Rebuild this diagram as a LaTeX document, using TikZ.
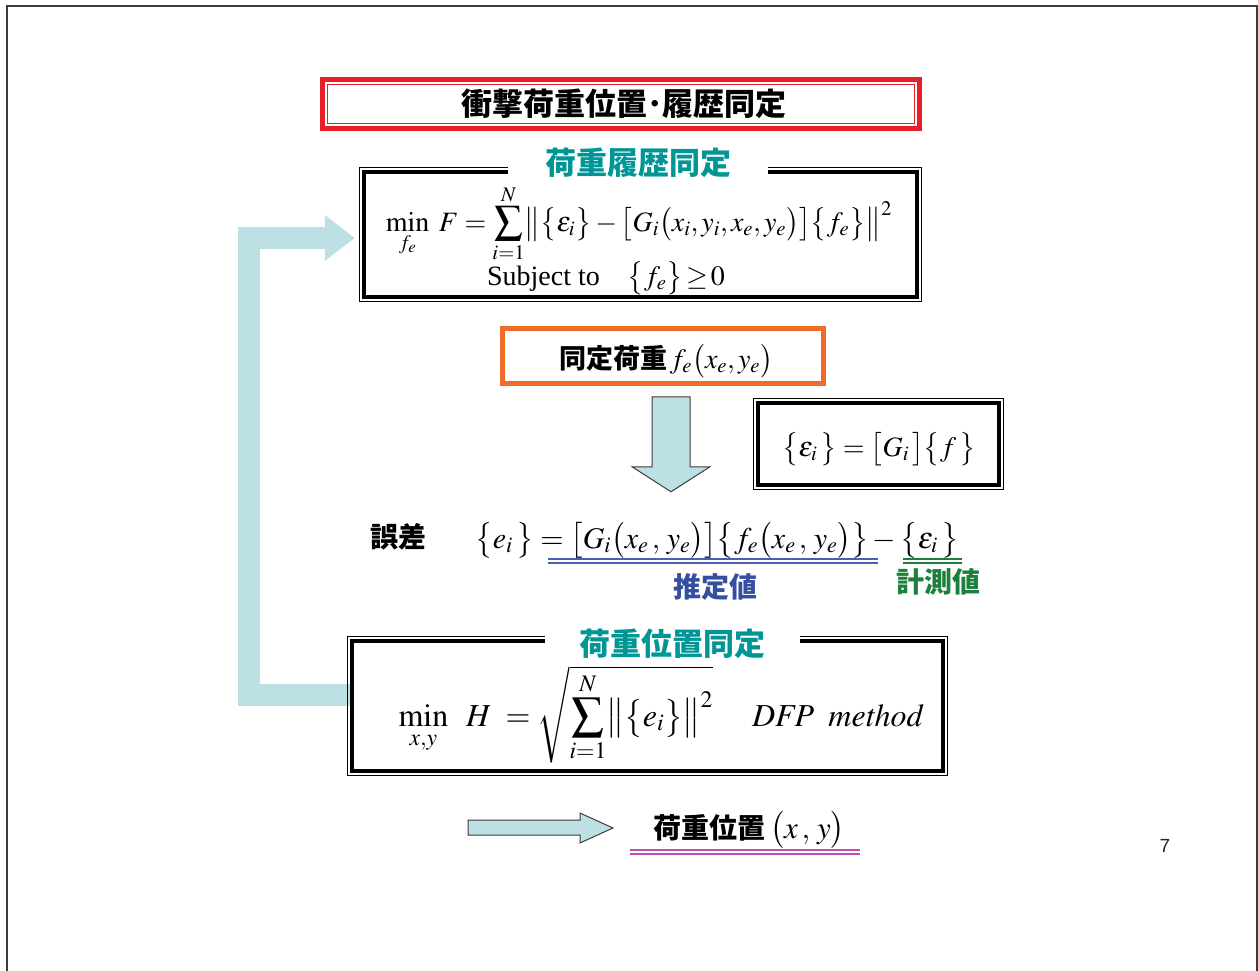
\documentclass[tikz,border=0pt]{standalone}
\usepackage{mathptmx}
\usepackage{fontspec}
\setmainfont{Liberation Serif}
\setsansfont{Liberation Sans}
\newfontfamily\cjk{Noto Sans CJK JP}
\usetikzlibrary{calc,arrows.meta}

\definecolor{redc}{RGB}{232,30,40}
\definecolor{orangec}{RGB}{240,108,40}
\definecolor{tealc}{RGB}{0,150,150}
\definecolor{arrowc}{RGB}{188,224,228}
\definecolor{bluec}{RGB}{52,78,160}
\definecolor{blueln}{RGB}{72,96,184}
\definecolor{greenc}{RGB}{28,128,60}
\definecolor{magc}{RGB}{192,80,176}
\definecolor{framec}{RGB}{60,60,60}

\newcommand\jpb{\cjk\bfseries}
% double frame: thin outer line, thick inner line
\newcommand\dblframe[1]{%
  \draw[line width=1.2pt] ([shift={(0.6pt,-0.6pt)}]#1.north west) rectangle ([shift={(-0.6pt,0.6pt)}]#1.south east);
  \draw[line width=4pt] ([shift={(5pt,-5pt)}]#1.north west) rectangle ([shift={(-5pt,5pt)}]#1.south east);}
% two thin parallel lines under a term
\newcommand\dblrule[4]{%
  \draw[#4, line width=1.4pt] (#1,#3) -- (#2,#3);
  \draw[#4, line width=1.4pt] (#1,#3+4) -- (#2,#3+4);}

\begin{document}
\begin{tikzpicture}[x=1pt,y=-1pt,
  jpt/.style={font=\jpb\fontsize{31}{36}\selectfont, inner sep=0pt},
  jps/.style={font=\jpb\fontsize{28}{33}\selectfont, inner sep=0pt},
  mathf/.style={font=\fontsize{28}{34}\selectfont, inner sep=0pt},
  mathm/.style={font=\fontsize{30}{36}\selectfont, inner sep=0pt},
  mathl/.style={font=\fontsize{32}{38}\selectfont, inner sep=0pt},
  boxarea/.style={inner sep=0pt},
  grouplabel/.style={jpt, text=tealc, fill=white, minimum height=28pt},
  feedback/.style={draw=arrowc, line width=22pt, line join=miter,
    -{Triangle[width=44pt,length=30pt]}},
  blockarrow/.style={draw=framec, line width=1pt, fill=arrowc, line join=miter}]

\useasboundingbox (0,0) rectangle (1258,970);

% page frame
\draw[framec, line width=1.6pt] (7,975) -- (7,6) -- (1257,6) -- (1257,975);

% boxes
\node[boxarea, minimum width=563pt, minimum height=135pt] (B1) at (640.5,234.5) {};
\node[boxarea, minimum width=251pt, minimum height=92pt] (B2) at (878.5,444) {};
\node[boxarea, minimum width=601pt, minimum height=140pt] (B3) at (647.5,706) {};

% feedback arrow from the location box back to the history box
\coordinate (fbA) at ([xshift=3pt,yshift=11pt]B3.west);
\coordinate (fbB) at ([xshift=-4pt,yshift=-3.5pt]B1.west);
\draw[feedback] (fbA) -| ([xshift=-105.5pt]fbB) -- (fbB);

\dblframe{B1}
\dblframe{B2}
\dblframe{B3}

% title
\node[jpt, minimum width=602pt, minimum height=54pt] (title) at (624,104) {衝撃荷重位置･履歴同定};
\draw[redc, line width=5pt] ([shift={(-0.5pt,-2.5pt)}]title.north west) rectangle ([shift={(-5.5pt,2.5pt)}]title.south east);
\draw[redc, line width=1.3pt] ([shift={(4.5pt,-7.5pt)}]title.north west) rectangle ([shift={(-10.5pt,7.5pt)}]title.south east);

% load history identification
\node[grouplabel, minimum width=260pt] (L1) at (638,163) {荷重履歴同定};
\node[mathf, anchor=base] (F1) at (639,231)
  {$\displaystyle\min_{f_e}\;F=\sum_{i=1}^{N}\bigl\|\bigl\{\varepsilon_i\bigr\}-\bigl[G_i\bigl(x_i,y_i,x_e,y_e\bigr)\bigr]\bigl\{f_e\bigr\}\bigr\|^2$};
\node[mathf, anchor=base] (S1) at (606,285) {Subject to\quad $\bigl\{f_e\bigr\}\,{\geq}\,0$};

% identified load
\node[draw=orangec, line width=4.5pt, minimum width=321pt, minimum height=55pt] (OB) at (663,356) {};
\node[anchor=base, inner sep=0pt] (OT) at (666,368)
  {{\jpb\fontsize{27}{32}\selectfont 同定荷重}\;{\fontsize{28}{34}\selectfont$f_e\bigl(x_e,y_e\bigr)$}};

% strain relation
\node[mathf, anchor=base] (G1) at (879,456) {$\bigl\{\varepsilon_i\,\bigr\}=\bigl[G_i\,\bigr]\bigl\{f\,\bigr\}$};

% down arrow
\coordinate (da) at ([xshift=8pt,yshift=-11pt]OB.south);
\draw[blockarrow] (da) ++(-19,0) -- ++(38,0) -- ++(0,70) -- ++(20,0) -- ++(-39,25) -- ++(-39,-25) -- ++(20,0) -- cycle;

% error
\node[jps, anchor=base] (ER) at (398,547) {誤差};
\node[mathm, anchor=base] (E1) at (717,548)
  {$\bigl\{e_i\,\bigr\}=\bigl[G_i\bigl(x_e\,,\,y_e\bigr)\bigr]\bigl\{f_e\bigl(x_e\,,\,y_e\bigr)\bigr\}-\bigl\{\varepsilon_i\,\bigr\}$};
\dblrule{548}{878}{559}{blueln}
\dblrule{903}{962}{559}{greenc}
\node[jps, text=bluec] (EST) at (715,587) {推定値};
\node[jps, text=greenc] (MEA) at (938,582) {計測値};

% load location identification
\node[grouplabel, minimum width=255pt] (L3) at (672,644) {荷重位置同定};
\node[mathl, anchor=base] (F3) at (661,726)
  {$\displaystyle\min_{x,y}\;\;H\;=\sqrt{\sum_{i=1}^{N}\bigl\|\bigl\{e_i\bigr\}\bigr\|^2}\quad\; \mathit{DFP}\;\;\mathit{method}$};

% result
\node[anchor=base, inner sep=0pt] (RES) at (749,838)
  {{\jpb\fontsize{28}{33}\selectfont 荷重位置}\enspace{\fontsize{31}{37}\selectfont$\bigl(x\,,\,y\bigr)$}};
\dblrule{630}{860}{850}{magc}
\coordinate (rt) at (613,828);
\draw[blockarrow] (rt) -- ++(-33,-15) -- ++(0,7) -- ++(-112,0) -- ++(0,15) -- ++(112,0) -- ++(0,8) -- cycle;

% page number
\node[font=\sffamily\fontsize{19}{22}\selectfont, text=black!85] (pg) at (1165,846) {7};
\end{tikzpicture}
\end{document}
